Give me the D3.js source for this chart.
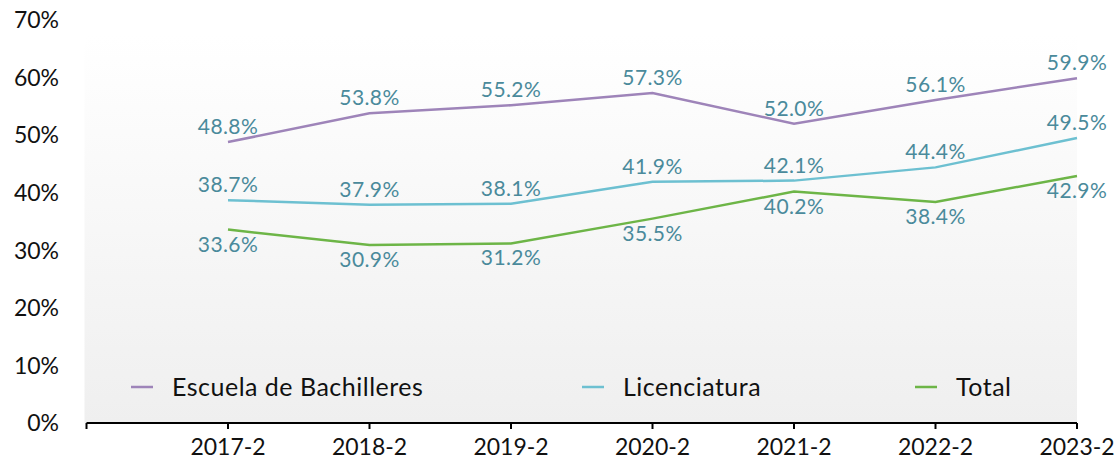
<!DOCTYPE html>
<html>
<head>
<meta charset="utf-8">
<script src="https://cdn.jsdelivr.net/npm/d3@7"></script>
<style>
  html, body { margin: 0; padding: 0; background: #fff; }
  svg text { font-family: Lato, "Open Sans", sans-serif; }
</style>
</head>
<body>
<div id="chart"></div>
<script>
var periods = ["2017-2", "2018-2", "2019-2", "2020-2", "2021-2", "2022-2", "2023-2"];
var bachilleres = [48.8, 53.8, 55.2, 57.3, 52.0, 56.1, 59.9];
var licenciatura = [38.7, 37.9, 38.1, 41.9, 42.1, 44.4, 49.5];
var total = [33.6, 30.9, 31.2, 35.5, 40.2, 38.4, 42.9];
var yTicks = [0, 10, 20, 30, 40, 50, 60, 70];

var width = 1119,
  height = 461;

var series = [
  { name: "Escuela de Bachilleres", values: bachilleres, color: "#9e84b9", labelPos: "above", legendX: 131 },
  { name: "Licenciatura", values: licenciatura, color: "#6dc0d1", labelPos: "above", legendX: 582 },
  { name: "Total", values: total, color: "#6db547", labelPos: "below", legendX: 915 }
];

var svg = d3.select("#chart")
  .append("svg")
  .attr("width", width)
  .attr("height", height);

var x = d3.scalePoint()
  .domain(periods)
  .range([228, 1077]);

var y = d3.scaleLinear()
  .domain([0, 70])
  .range([423, 20]);

// first tick of the axis sits one step left of the first period
var x0 = x.range()[0] - x.step();

// background gradient of the plot area
var grad = svg.append("defs")
  .append("linearGradient")
  .attr("id", "bg")
  .attr("x1", 0).attr("y1", 0)
  .attr("x2", 0).attr("y2", 1);
grad.append("stop").attr("offset", "0%").attr("stop-color", "#ffffff");
grad.append("stop").attr("offset", "100%").attr("stop-color", "#efefef");

svg.append("rect")
  .attr("x", x0 - 2)
  .attr("y", 35)
  .attr("width", x.range()[1] - x0 + 2)
  .attr("height", y(0) - 35)
  .attr("fill", "url(#bg)");

// y labels
svg.append("g")
  .selectAll("text")
  .data(yTicks)
  .enter().append("text")
  .attr("x", 59)
  .attr("y", function(d) { return y(d); })
  .attr("dy", "0.36em")
  .attr("text-anchor", "end")
  .attr("font-size", 23)
  .attr("fill", "#111")
  .text(function(d) { return d + "%"; });

// x axis
var xAxis = svg.append("g");
xAxis.append("line")
  .attr("x1", x0).attr("x2", x.range()[1])
  .attr("y1", y(0)).attr("y2", y(0))
  .attr("stroke", "#000")
  .attr("stroke-width", 2);

xAxis.selectAll(".tick")
  .data([x0].concat(periods.map(function(p) { return x(p); })))
  .enter().append("line")
  .attr("x1", function(d) { return d; })
  .attr("x2", function(d) { return d; })
  .attr("y1", y(0))
  .attr("y2", y(0) + 6)
  .attr("stroke", "#000")
  .attr("stroke-width", 2);

xAxis.selectAll("text")
  .data(periods)
  .enter().append("text")
  .attr("x", function(d) { return x(d); })
  .attr("y", 455)
  .attr("text-anchor", "middle")
  .attr("font-size", 23)
  .attr("fill", "#111")
  .text(function(d) { return d; });

var line = d3.line()
  .x(function(d, i) { return x(periods[i]); })
  .y(function(d) { return y(d); });

series.forEach(function(s) {
  svg.append("path")
    .datum(s.values)
    .attr("d", line)
    .attr("fill", "none")
    .attr("stroke", s.color)
    .attr("stroke-width", 2.5);
});

// data labels
series.forEach(function(s) {
  svg.append("g")
    .selectAll("text")
    .data(s.values)
    .enter().append("text")
    .attr("x", function(d, i) { return x(periods[i]); })
    .attr("y", function(d) {
      return s.labelPos === "above" ? y(d) - 8 : y(d) + 22;
    })
    .attr("text-anchor", "middle")
    .attr("font-size", 21)
    .attr("letter-spacing", 0.4)
    .attr("fill", "#4a8a9b")
    .text(function(d) { return d.toFixed(1) + "%"; });
});

// legend
var legend = svg.append("g")
  .selectAll("g")
  .data(series)
  .enter().append("g")
  .attr("transform", function(d) { return "translate(" + d.legendX + ",387)"; });

legend.append("line")
  .attr("x1", 0).attr("x2", 22)
  .attr("stroke", function(d) { return d.color; })
  .attr("stroke-width", 2.5);

legend.append("text")
  .attr("x", 41)
  .attr("dy", "0.36em")
  .attr("font-size", 25)
  .attr("letter-spacing", 0.5)
  .attr("fill", "#111")
  .text(function(d) { return d.name; });
</script>
</body>
</html>
